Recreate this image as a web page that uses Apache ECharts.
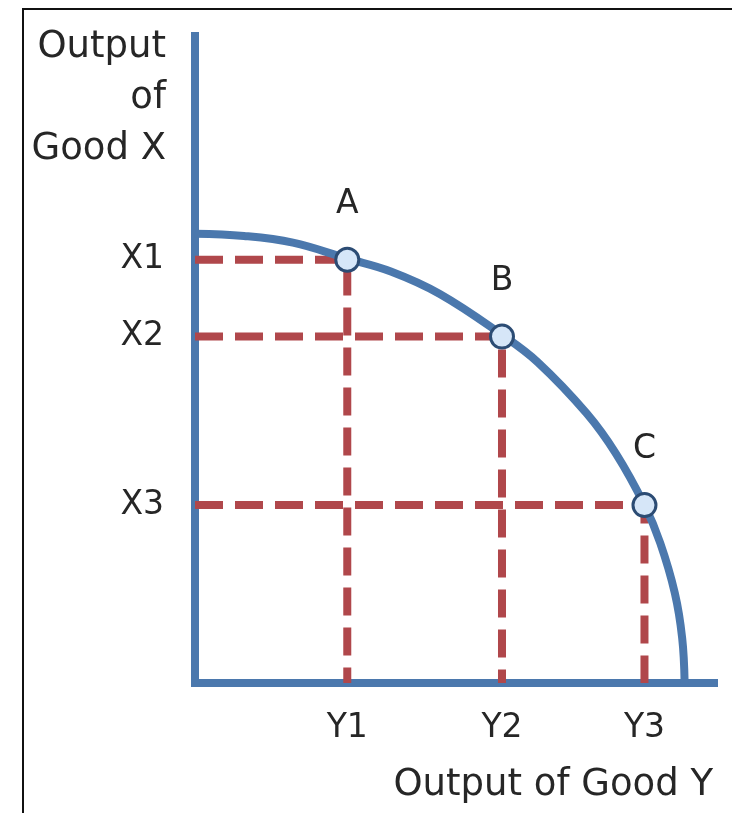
<!DOCTYPE html>
<html>
<head>
<meta charset="utf-8">
<script src="https://cdn.jsdelivr.net/npm/echarts@6/dist/echarts.min.js"></script>
<style>
	html, body { margin: 0; padding: 0; background: #fff; }
	#chart { width: 732px; height: 813px; }
</style>
</head>
<body>
<div id="chart"></div>
<script>
// production possibility frontier (good Y on x, good X on y)
const curveY = [0, 10, 20, 31, 40, 50, 62.7, 70, 80, 86, 91.8, 95, 98, 99.5, 100];
const curveX = [100, 99.5, 98, 94.5, 91.6, 86.6, 77.5, 71.4, 60, 51, 39.6, 31.2, 20, 10, 0];

const pointNames = ["A", "B", "C"];
const pointY = [31.1, 62.7, 91.8];
const pointX = [94.2, 77.1, 39.6];

const yTickLabels = ["Y1", "Y2", "Y3"];
const xTickLabels = ["X1", "X2", "X3"];

const blue = "#4b78ad";
const red = "#b0474b";
const ink = "#262626";
const font = "'DejaVu Sans', sans-serif";

const chart = echarts.init(document.getElementById("chart"), null, { renderer: "canvas" });

const guideSeries = pointNames.map((name, i) => ({
	type: "line",
	name: "guide " + name,
	symbol: "none",
	z: 2,
	lineStyle: { color: red, width: 8, type: [28, 12] },
	data: [[0, pointX[i]], [pointY[i], pointX[i]], [pointY[i], 0]]
}));

chart.setOption({
	animation: false,
	backgroundColor: "#fff",
	grid: { left: 195, right: 18, top: 36, bottom: 130 },
	xAxis: {
		type: "value",
		min: 0,
		max: 106,
		splitLine: { show: false },
		axisTick: { show: false },
		axisLine: { lineStyle: { color: blue, width: 8, cap: "square" } },
		axisLabel: {
			customValues: pointY,
			formatter: (v) => yTickLabels[pointY.indexOf(v)] || "",
			margin: 29,
			fontSize: 33,
			fontFamily: font,
			color: ink
		}
	},
	yAxis: {
		type: "value",
		min: 0,
		max: 144,
		splitLine: { show: false },
		axisTick: { show: false },
		axisLine: { lineStyle: { color: blue, width: 8, cap: "square" } },
		axisLabel: {
			customValues: pointX,
			formatter: (v) => xTickLabels[pointX.indexOf(v)] || "",
			margin: 31,
			fontSize: 33,
			fontFamily: font,
			color: ink
		}
	},
	graphic: [
		{
			type: "polyline",
			shape: { points: [[23, 813], [23, 9], [732, 9]] },
			style: { stroke: "#111", lineWidth: 2, fill: null }
		},
		{
			type: "text",
			x: 166,
			y: 22,
			style: {
				text: "Output\nof\nGood X",
				align: "right",
				verticalAlign: "top",
				fontSize: 37,
				lineHeight: 51,
				fontFamily: font,
				fill: ink
			}
		},
		{
			type: "text",
			x: 713,
			y: 785,
			style: {
				text: "Output of Good Y",
				align: "right",
				verticalAlign: "middle",
				fontSize: 37,
				fontFamily: font,
				fill: ink
			}
		}
	],
	series: [
		...guideSeries,
		{
			type: "line",
			name: "frontier",
			symbol: "none",
			smooth: 0.4,
			z: 3,
			lineStyle: { color: blue, width: 8 },
			data: curveY.map((y, i) => [y, curveX[i]])
		},
		{
			type: "scatter",
			name: "points",
			z: 4,
			symbolSize: 23,
			itemStyle: { color: "#d6e6f8", borderColor: "#2c4c74", borderWidth: 3, opacity: 1 },
			label: {
				show: true,
				position: "top",
				distance: 26,
				formatter: (p) => pointNames[p.dataIndex],
				fontSize: 33,
				fontFamily: font,
				color: ink
			},
			data: pointY.map((y, i) => [y, pointX[i]])
		}
	]
});
</script>
</body>
</html>
